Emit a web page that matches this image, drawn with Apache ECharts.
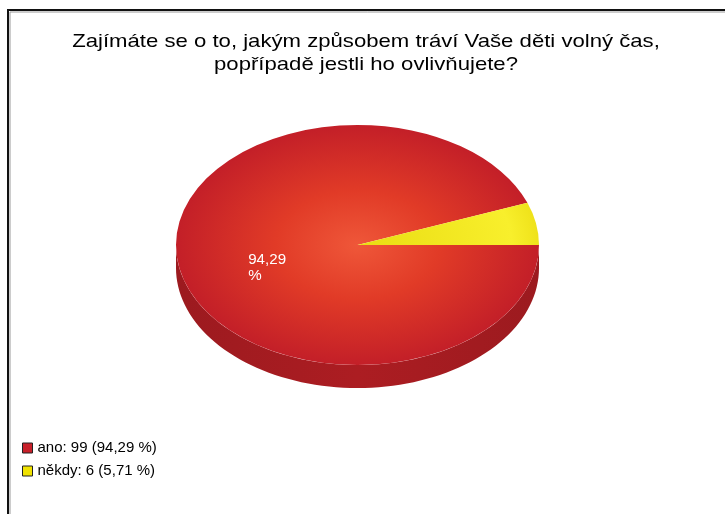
<!DOCTYPE html>
<html>
<head>
<meta charset="utf-8">
<script src="https://cdn.jsdelivr.net/npm/echarts@6/dist/echarts.min.js"></script>
<style>
  html, body { margin: 0; padding: 0; background: #fff; }
  #main { width: 725px; height: 514px; }
</style>
</head>
<body>
<div id="main"></div>
<script>
// data
var titleText = 'Zajímáte se o to, jakým způsobem tráví Vaše děti volný čas,\npopřípadě jestli ho ovlivňujete?';
var categories = ['ano', 'někdy'];
var counts = [99, 6];
var percents = ['94,29', '5,71'];
var colors = ['#c8202a', '#f0e200'];

var total = counts.reduce(function (a, b) { return a + b; }, 0);

// pie geometry (tilted 3d look)
var CX = 357.5, CY = 245, RX = 181.5, RY = 120, DEPTH = 23;
var FONT = '"Liberation Sans", Arial, sans-serif';

// gradienty pro horni plochu
var topFills = [
    { type: 'radial', x: 0, y: 0, r: RX, global: true, colorStops: [
        { offset: 0, color: '#ef5739' }, { offset: 0.45, color: '#e13b27' }, { offset: 1, color: '#c31f28' }
    ] },
    { type: 'radial', x: 0, y: 0, r: RX, global: true, colorStops: [
        { offset: 0, color: '#e9dc12' }, { offset: 0.85, color: '#f8ef2c' }, { offset: 1, color: '#efe21a' }
    ] }
];

function sliceAngles(idx) {
    var before = 0;
    for (var i = 0; i < idx; i++) before += counts[i];
    var s = before / total * Math.PI * 2;
    var e = (before + counts[idx]) / total * Math.PI * 2;
    return [s, e];
}

function makeRender(idx) {
    return function (params, api) {
        var val = api.value(0);
        var ang = sliceAngles(idx);
        var children = [];

        // bocni stena - jen predni polovina (0..PI)
        var a = Math.max(ang[0], 0), b = Math.min(ang[1], Math.PI);
        if (b > a) {
            var pts = [], n = 80, t, k;
            for (k = 0; k <= n; k++) {
                t = a + (b - a) * k / n;
                pts.push([CX + RX * Math.cos(t), CY + RY * Math.sin(t)]);
            }
            for (k = n; k >= 0; k--) {
                t = a + (b - a) * k / n;
                pts.push([CX + RX * Math.cos(t), CY + RY * Math.sin(t) + DEPTH]);
            }
            children.push({
                type: 'polygon',
                shape: { points: pts },
                style: { fill: { type: 'linear', x: 0, y: 0, x2: 1, y2: 0, colorStops: [
                    { offset: 0, color: '#9c1a1f' }, { offset: 0.5, color: '#ac1d22' }, { offset: 1, color: '#9c1a1f' }
                ] } }
            });
        }

        // horni plocha
        children.push({
            type: 'group',
            x: CX, y: CY, scaleY: RY / RX,
            children: [{
                type: 'sector',
                shape: { cx: 0, cy: 0, r: RX, r0: 0, startAngle: ang[0], endAngle: ang[1], clockwise: true },
                style: { fill: topFills[idx] }
            }]
        });

        // popisek uvnitr (jen velke vysece)
        if (val / total > 0.5) {
            var mid = (ang[0] + ang[1]) / 2;
            var px = CX + RX * 0.5 * Math.cos(mid);
            var py = CY + RY * 0.5 * Math.sin(mid);
            children.push({
                type: 'text',
                x: px - 20, y: py - 4,
                scaleX: 1.08,
                style: {
                    text: percents[idx] + '\n%',
                    fill: '#fff',
                    font: '14px ' + FONT,
                    lineHeight: 16,
                    align: 'left',
                    verticalAlign: 'top'
                }
            });
        }
        return { type: 'group', children: children };
    };
}

var myChart = echarts.init(document.getElementById('main'));

var series = categories.map(function (name, i) {
    return {
        name: name,
        type: 'custom',
        coordinateSystem: 'none',
        itemStyle: { color: colors[i] },
        renderItem: makeRender(i),
        data: [[counts[i]]]
    };
});

myChart.setOption({
    animation: false,
    legend: {
        orient: 'vertical',
        left: 17,
        top: 434,
        icon: 'rect',
        itemWidth: 10,
        itemHeight: 10,
        itemGap: 5,
        selectedMode: false,
        itemStyle: { borderColor: '#222', borderWidth: 1 },
        textStyle: {
            fontFamily: FONT,
            fontSize: 15,
            lineHeight: 18,
            color: '#000'
        },
        formatter: function (name) {
            var i = categories.indexOf(name);
            return name + ': ' + counts[i] + ' (' + percents[i] + ' %)';
        },
        data: categories
    },
    graphic: [
        { type: 'polyline', shape: { points: [[10, 514], [10, 12], [725, 12]] }, style: { stroke: '#999', lineWidth: 1, fill: null } },
        { type: 'polyline', shape: { points: [[8, 514], [8, 10], [725, 10]] }, style: { stroke: '#111', lineWidth: 2, fill: null } },
        // nadpis - puvodni obrazek ma sirsi rozestupy pisma
        {
            type: 'text',
            x: 366, y: 31,
            scaleX: 1.165,
            style: {
                text: titleText,
                font: '19px ' + FONT,
                lineHeight: 22.5,
                fill: '#000',
                align: 'center',
                verticalAlign: 'top'
            }
        }
    ],
    series: series
});
</script>
</body>
</html>
